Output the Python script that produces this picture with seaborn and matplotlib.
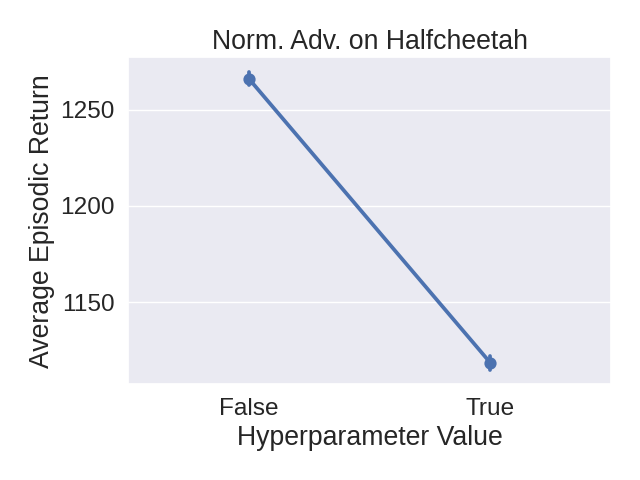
import matplotlib
matplotlib.use("Agg")
import matplotlib.pyplot as plt
import pandas as pd
import seaborn as sns

# per-run episodic returns (min / mean / max per setting)
settings = ["False", "True"]
false_returns = [1262.5, 1266.1, 1269.5]
true_returns = [1115.0, 1118.4, 1122.0]

df = pd.DataFrame({
    "value": settings[0:1] * len(false_returns) + settings[1:2] * len(true_returns),
    "ret": false_returns + true_returns,
})

sns.set_theme(style="darkgrid", font_scale=1.6)
plt.rcParams["font.family"] = ["Liberation Sans", "DejaVu Sans"]

fig, ax = plt.subplots(figsize=(6.4, 4.8), dpi=100)
sns.pointplot(data=df, x="value", y="ret", order=settings, errorbar=("pi", 100), ax=ax)

ax.set_title("Norm. Adv. on Halfcheetah")
ax.set_xlabel("Hyperparameter Value")
ax.set_ylabel("Average Episodic Return")
ax.set_yticks([1150, 1200, 1250])

plt.tight_layout()
plt.savefig("out.png")
